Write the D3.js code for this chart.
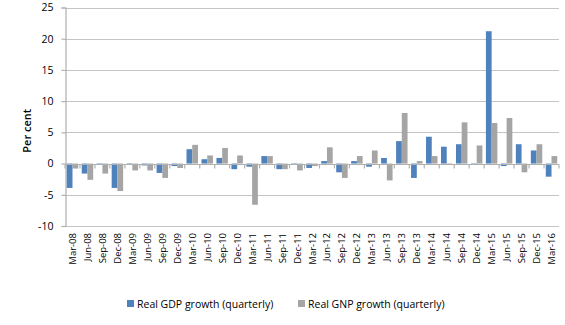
<!DOCTYPE html>
<html>
<head>
<meta charset="utf-8">
<script src="https://cdn.jsdelivr.net/npm/d3@7"></script>
<style>
  body { margin: 0; background: #fff; }
  text { font-family: "Open Sans", sans-serif; fill: #000; }
</style>
</head>
<body>
<div id="chart"></div>
<script>
// Quarters shown on the category axis
const quarters = [
  "Mar-08", "Jun-08", "Sep-08", "Dec-08", "Mar-09", "Jun-09", "Sep-09", "Dec-09",
  "Mar-10", "Jun-10", "Sep-10", "Dec-10", "Mar-11", "Jun-11", "Sep-11", "Dec-11",
  "Mar-12", "Jun-12", "Sep-12", "Dec-12", "Mar-13", "Jun-13", "Sep-13", "Dec-13",
  "Mar-14", "Jun-14", "Sep-14", "Dec-14", "Mar-15", "Jun-15", "Sep-15", "Dec-15",
  "Mar-16"
];

// Real GDP growth (quarterly), per cent
const gdp = [
  -3.9, -1.6, -0.2, -3.9, -0.2, -0.3, -1.5, -0.4,
  2.3, 0.7, 0.9, -0.9, -0.5, 1.2, -0.9, -0.1,
  -0.7, 0.4, -1.4, 0.4, -0.5, 0.9, 3.6, -2.3,
  4.3, 2.7, 3.1, -0.2, 21.2, -0.4, 3.1, 2.1,
  -2.1
];

// Real GNP growth (quarterly), per cent
const gnp = [
  -0.8, -2.6, -1.6, -4.4, -1.1, -1.1, -2.3, -0.7,
  3.0, 1.3, 2.5, 1.3, -6.6, 1.2, -0.9, -1.1,
  -0.4, 2.6, -2.3, 1.2, 2.1, -2.7, 8.1, 0.4,
  1.2, -0.2, 6.6, 2.9, 6.5, 7.3, -1.4, 3.1,
  1.2
];

const yTicks = [25, 20, 15, 10, 5, 0, -5, -10];
const seriesNames = ["Real GDP growth (quarterly)", "Real GNP growth (quarterly)"];
const seriesColors = ["#4f81bd", "#a5a5a5"];

const width = 565;
const height = 325;
const plotLeft = 65, plotRight = 559, plotTop = 7.5, plotBottom = 226;

const svg = d3.select("#chart")
  .append("svg")
  .attr("width", width)
  .attr("height", height);

const x = d3.scaleBand()
  .domain(quarters)
  .range([plotLeft, plotRight])
  .paddingInner(0.235)
  .paddingOuter(0.1175);

const xSub = d3.scaleBand()
  .domain([0, 1])
  .range([0, x.bandwidth()]);

const y = d3.scaleLinear()
  .domain([-10, 25])
  .range([plotBottom, plotTop]);

// Gridlines
svg.append("g")
  .selectAll("line")
  .data(yTicks)
  .enter().append("line")
  .attr("x1", plotLeft)
  .attr("x2", plotRight)
  .attr("y1", d => Math.round(y(d)) + 0.5)
  .attr("y2", d => Math.round(y(d)) + 0.5)
  .attr("stroke", "#c4c4c4")
  .attr("stroke-width", 1.2);

// Y axis (plain hyphen for negatives, like the original)
const yAxis = svg.append("g")
  .attr("transform", `translate(${plotLeft + 0.5},0)`)
  .call(d3.axisLeft(y).tickValues(yTicks).tickSize(4).tickPadding(8)
    .tickFormat(d => String(d)));
yAxis.select(".domain").attr("stroke", "#b0b0b0").attr("stroke-width", 1.2);
yAxis.selectAll(".tick line").attr("stroke", "#b0b0b0").attr("stroke-width", 1.2);
yAxis.selectAll(".tick text")
  .style("font-size", "10.5px")
  .style("fill", "#000")
  .style("font-family", "'Open Sans', sans-serif");

// Bars
const groups = [gdp, gnp];
groups.forEach((vals, s) => {
  svg.append("g")
    .selectAll("rect")
    .data(vals)
    .enter().append("rect")
    .attr("x", (d, i) => x(quarters[i]) + xSub(s))
    .attr("width", xSub.bandwidth())
    .attr("y", d => y(Math.max(0, d)))
    .attr("height", d => Math.abs(y(d) - y(0)))
    .attr("fill", seriesColors[s]);
});

// Category axis line at zero with boundary ticks
const zeroY = Math.round(y(0)) + 0.5;
svg.append("line")
  .attr("x1", plotLeft).attr("x2", plotRight)
  .attr("y1", zeroY).attr("y2", zeroY)
  .attr("stroke", "#b0b0b0")
  .attr("stroke-width", 1.2);

svg.append("g")
  .selectAll("line")
  .data(d3.range(quarters.length + 1))
  .enter().append("line")
  .attr("x1", i => plotLeft + i * x.step())
  .attr("x2", i => plotLeft + i * x.step())
  .attr("y1", zeroY)
  .attr("y2", zeroY + 4)
  .attr("stroke", "#b0b0b0")
  .attr("stroke-width", 1.2);

// Category labels, rotated, below the plot
svg.append("g")
  .selectAll("text")
  .data(quarters)
  .enter().append("text")
  .attr("transform", d => `translate(${x(d) + x.bandwidth() / 2 + 3.5},${plotBottom + 7}) rotate(-90)`)
  .attr("text-anchor", "end")
  .style("font-size", "9.5px")
  .text(d => d);

// Y axis title
svg.append("text")
  .attr("transform", `translate(31,${(plotTop + plotBottom) / 2 + 14}) rotate(-90)`)
  .attr("text-anchor", "middle")
  .style("font-size", "11px")
  .style("font-weight", "600")
  .text("Per cent");

// Legend
const legendX = [127, 298];
const legend = svg.append("g")
  .selectAll("g")
  .data(seriesNames)
  .enter().append("g")
  .attr("transform", (d, i) => `translate(${legendX[i]},300)`);

legend.append("rect")
  .attr("width", 7)
  .attr("height", 7)
  .attr("fill", (d, i) => seriesColors[i]);

legend.append("text")
  .attr("x", 10)
  .attr("y", 4)
  .attr("dy", "0.35em")
  .style("font-size", "10.5px")
  .text(d => d);
</script>
</body>
</html>
